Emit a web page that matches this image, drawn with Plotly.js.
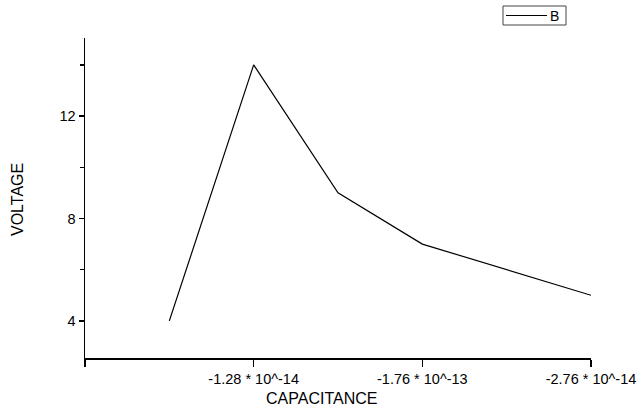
<!DOCTYPE html>
<html>
<head>
<meta charset="utf-8">
<script src="https://cdn.plot.ly/plotly-3.0.1.min.js"></script>
<style>html,body{margin:0;padding:0;background:#fff;}#chart{width:639px;height:412px;}</style>
</head>
<body>
<div id="chart"></div>
<script>
const xPositions = [1, 2, 3, 4, 6];
const voltage = [4, 14, 9, 7, 5];
const seriesName = "B";
const xTickVals = [0, 2, 4, 6];
const xTickText = ["", "-1.28 * 10^-14", "-1.76 * 10^-13", "-2.76 * 10^-14"];
const yTickVals = [4, 8, 12];
const yMinorTickVals = [6, 10, 14];
const xTitle = "CAPACITANCE";
const yTitle = "VOLTAGE";

const font = "Arial, 'Liberation Sans', sans-serif";
const trace = {
  x: xPositions, y: voltage, name: seriesName, type: "scatter", mode: "lines",
  line: {color: "#000", width: 1.2}, showlegend: false
};
// plot area: left 85px, width 506px; bottom 358px, height 320px
const px = v => (v - 85) / 506;
const py = v => (358 - v) / 320;
const layout = {
  width: 639, height: 412,
  margin: {l: 85, r: 48, t: 38, b: 54, autoexpand: false},
  paper_bgcolor: "#fff", plot_bgcolor: "#fff",
  font: {family: font, size: 14, color: "#000"},
  showlegend: false,
  xaxis: {
    range: [0, 6], showgrid: false, zeroline: false, automargin: false,
    showline: true, linecolor: "#000", linewidth: 1.5, mirror: false,
    tickmode: "array", tickvals: xTickVals, ticktext: xTickText,
    ticks: "outside", ticklen: 7, tickwidth: 1.5, tickcolor: "#000",
    tickfont: {family: font, size: 14.5, color: "#000"}
  },
  yaxis: {
    range: [2.55, 15.05], showgrid: false, zeroline: false, automargin: false,
    showline: true, linecolor: "#000", linewidth: 1.5,
    tickmode: "array", tickvals: yTickVals,
    ticks: "outside", ticklen: 5, tickwidth: 1.5, tickcolor: "#000",
    tickfont: {family: font, size: 14.5, color: "#000"},
    minor: {tickmode: "array", tickvals: yMinorTickVals, ticks: "outside", ticklen: 4, tickwidth: 1.5, tickcolor: "#000"}
  },
  shapes: [
    {type: "rect", xref: "paper", yref: "paper", x0: px(503), x1: px(566), y0: py(25), y1: py(6),
     line: {color: "#444", width: 1}, fillcolor: "#fff"},
    {type: "line", xref: "paper", yref: "paper", x0: px(506), x1: px(547), y0: py(15.5), y1: py(15.5),
     line: {color: "#000", width: 1.2}}
  ],
  annotations: [
    {text: seriesName, xref: "paper", yref: "paper", x: px(548), y: py(15.5), xanchor: "left", yanchor: "middle",
     showarrow: false, font: {family: font, size: 14, color: "#000"}},
    {text: xTitle, xref: "paper", yref: "paper", x: px(321), y: py(398), xanchor: "center", yanchor: "middle",
     showarrow: false, font: {family: font, size: 16, color: "#000"}},
    {text: yTitle, xref: "paper", yref: "paper", x: px(17), y: py(200), xanchor: "center", yanchor: "middle",
     textangle: -90, showarrow: false, font: {family: font, size: 16, color: "#000"}}
  ]
};
Plotly.newPlot("chart", [trace], layout, {staticPlot: true, displayModeBar: false});
</script>
</body>
</html>
